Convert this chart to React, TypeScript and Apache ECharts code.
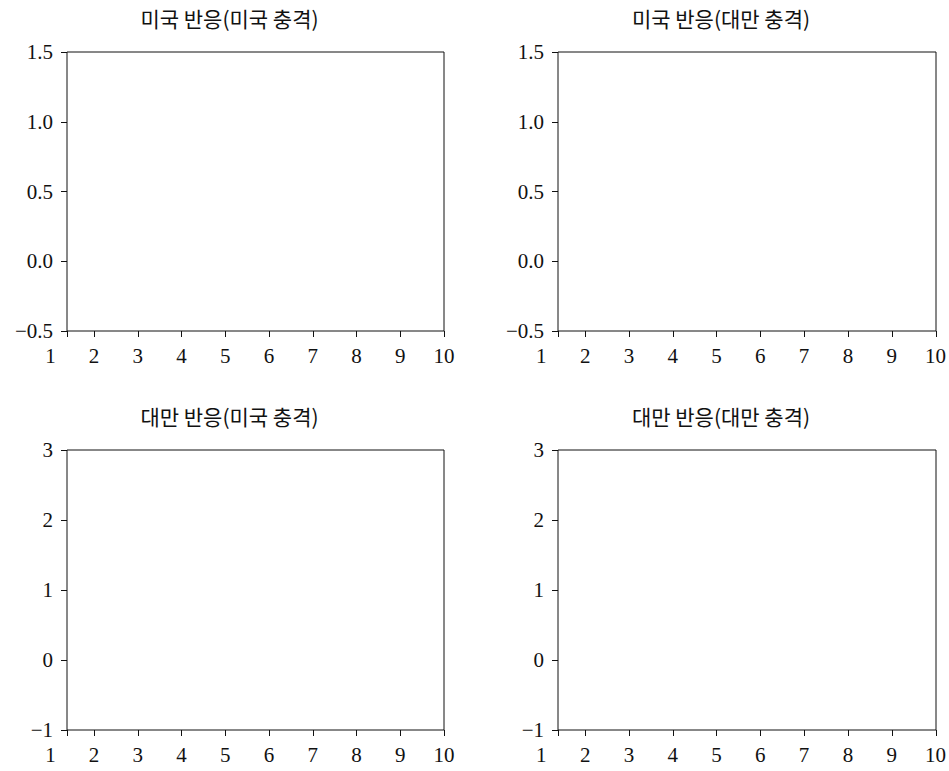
import { useEffect, useRef } from "react";
import * as echarts from "echarts";

// Impulse-response horizons shown on every panel
const horizons = [1, 2, 3, 4, 5, 6, 7, 8, 9, 10];
// Each plot box starts a little after horizon 1
const xStart = 1.38;
const xEnd = 10;

const panelTitles = [
  "미국 반응(미국 충격)",
  "미국 반응(대만 충격)",
  "대만 반응(미국 충격)",
  "대만 반응(대만 충격)",
];

// Y ranges: US responses (top row), Taiwan responses (bottom row)
const usYRange = [-0.5, 1.5];
const usYStep = 0.5;
const twYRange = [-1, 3];
const twYStep = 1;

// Response paths (no estimates drawn in these panels)
const usResponseUsShock: number[] = [];
const usResponseTwShock: number[] = [];
const twResponseUsShock: number[] = [];
const twResponseTwShock: number[] = [];

const responses = [usResponseUsShock, usResponseTwShock, twResponseUsShock, twResponseTwShock];

const boxes = [
  { left: 67, top: 52, width: 377, height: 279 },
  { left: 558, top: 52, width: 378, height: 279 },
  { left: 67, top: 450, width: 377, height: 280 },
  { left: 558, top: 450, width: 378, height: 280 },
];

const NUM_FONT = "'Liberation Serif', 'DejaVu Serif', serif";
const KR_FONT = "'Noto Sans CJK KR', 'Noto Sans', sans-serif";
const INK = "#111";

const fmtMinus = (s: string) => s.replace("-", "\u2212");

export default function App() {
  const ref = useRef<HTMLDivElement>(null);

  useEffect(() => {
    if (!ref.current) return;
    const chart = echarts.init(ref.current, undefined, { renderer: "svg" });

    const grid: any[] = [];
    const xAxis: any[] = [];
    const yAxis: any[] = [];
    const series: any[] = [];
    const title: any[] = [];

    boxes.forEach((b, i) => {
      const top = i < 2;
      const yr = top ? usYRange : twYRange;
      const step = top ? usYStep : twYStep;
      const unit = b.width / (xEnd - xStart);
      const labelLeft = b.left - (xStart - 1) * unit;

      // frame grid
      grid.push({
        left: b.left,
        top: b.top,
        width: b.width,
        height: b.height,
        show: true,
        borderColor: INK,
        borderWidth: 1,
        backgroundColor: "transparent",
      });
      // label grid spanning horizon 1..10
      grid.push({
        left: labelLeft,
        top: b.top,
        width: b.left + b.width - labelLeft,
        height: b.height,
        show: false,
      });

      xAxis.push({
        type: "value",
        gridIndex: 2 * i,
        position: "bottom",
        min: xStart,
        max: xEnd,
        axisLine: { show: false, onZero: false },
        axisTick: {
          show: true,
          length: 6,
          lineStyle: { color: INK, width: 1 },
          customValues: [xStart, ...horizons.filter((h) => h >= xStart)],
        },
        axisLabel: { show: false },
        splitLine: { show: false },
      });
      xAxis.push({
        type: "value",
        gridIndex: 2 * i + 1,
        position: "bottom",
        min: horizons[0],
        max: horizons[horizons.length - 1],
        axisLine: { show: false, onZero: false },
        axisTick: { show: false },
        axisLabel: {
          show: true,
          customValues: horizons,
          margin: 14,
          color: INK,
          fontFamily: NUM_FONT,
          fontSize: 21,
          formatter: (v: number) => String(v),
        },
        splitLine: { show: false },
      });

      yAxis.push({
        type: "value",
        gridIndex: 2 * i,
        min: yr[0],
        max: yr[1],
        interval: step,
        axisLine: { show: false, onZero: false },
        axisTick: { show: true, length: 6, lineStyle: { color: INK, width: 1 } },
        axisLabel: {
          margin: 14,
          color: INK,
          fontFamily: NUM_FONT,
          fontSize: 21,
          formatter: (v: number) => fmtMinus(top ? v.toFixed(1) : String(v)),
        },
        splitLine: { show: false },
      });
      yAxis.push({
        type: "value",
        gridIndex: 2 * i + 1,
        min: yr[0],
        max: yr[1],
        show: false,
      });

      series.push({
        type: "line",
        xAxisIndex: 2 * i,
        yAxisIndex: 2 * i,
        data: responses[i].map((v, k) => [horizons[k], v]),
        showSymbol: false,
        lineStyle: { color: INK },
      });

      title.push({
        text: panelTitles[i],
        left: b.left + b.width / 2 - 31,
        top: b.top - 50,
        textAlign: "center",
        textStyle: {
          fontFamily: KR_FONT,
          fontSize: 21,
          fontWeight: "normal",
          color: INK,
        },
      });
    });

    chart.setOption({
      animation: false,
      backgroundColor: "#fff",
      title,
      grid,
      xAxis,
      yAxis,
      series,
    });

    return () => chart.dispose();
  }, []);

  return (
    <div
      ref={ref}
      style={{ position: "fixed", left: 0, top: 0, width: 949, height: 771 }}
    />
  );
}
